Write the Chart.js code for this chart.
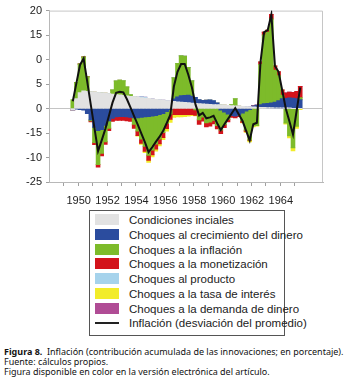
<!DOCTYPE html>
<html>
<head>
<meta charset="utf-8">
<script src="https://cdn.jsdelivr.net/npm/chart.js@4.4.0/dist/chart.umd.min.js"></script>
<style>
  body { margin: 0; background: #fff; width: 351px; height: 388px; position: relative; overflow: hidden; }
  #chart { position: absolute; left: 0; top: 0; }
  .legend { position: absolute; left: 89px; top: 210px; width: 194px; height: 124px; border: 1px solid #555;
            font-family: 'Liberation Sans Narrow', 'Arial Narrow', 'Liberation Sans', sans-serif; font-size: 11.5px; color: #222; }
  .legend .row { position: absolute; left: 0; width: 100%; height: 14px; }
  .legend .sw { position: absolute; left: 5px; top: 1px; width: 24px; height: 11px; }
  .legend .ln { position: absolute; left: 5px; top: 6px; width: 24px; height: 1.5px; background: #222; }
  .legend .lbl { position: absolute; left: 39px; top: 0; line-height: 14px; white-space: nowrap; }
  .caption { position: absolute; left: 4px; top: 347px; font-family: 'Noto Sans', sans-serif; font-size: 9.4px;
             line-height: 10.2px; color: #111; white-space: nowrap; transform-origin: 0 0; }
</style>
</head>
<body>
<canvas id="chart" width="351" height="208"></canvas>
<div class="legend" id="legend"></div>
<div class="caption" id="caption">
  <div id="cap1"><b>Figura 8.</b>&nbsp; Inflación (contribución acumulada de las innovaciones; en porcentaje).</div>
  <div>Fuente: cálculos propios.</div>
  <div>Figura disponible en color en la versión electrónica del artículo.</div>
</div>
<script>
// quarters 1950-I .. 1965-IV
const years = [1950, 1951, 1952, 1953, 1954, 1955, 1956, 1957, 1958, 1959, 1960, 1961, 1962, 1963, 1964, 1965];
const quarterPos = [];
years.forEach((y) => [0.125, 0.375, 0.625, 0.875].forEach((f) => quarterPos.push(y + f)));

const xTickValues = years;
const xTickLabels = ["1950", "", "1952", "", "1954", "", "1956", "", "1958", "", "1960", "", "1962", "", "1964", ""];
const yTickValues = [20, 15, 10, 5, 0, -5, -10, -15];
const yTickLabels = ["20", "15", "0", "5", "0", "-15", "-10", "-25"];

const initialConditions = [
  -0.3, 2.0, 3.2, 3.6, 3.5, 3.4, 3.35, 3.25,
  3.15, 3.1, 3.0, 2.9, 2.8, 2.75, 2.65, 2.55,
  2.45, 2.4, 2.3, 2.2, 2.1, 2.05, 1.95, 1.85,
  1.8, 1.7, 1.6, 1.5, 1.45, 1.35, 1.3, 1.25,
  1.2, 1.1, 1.05, 1.0, 0.95, 0.9, 0.85, 0.8,
  0.75, 0.7, 0.65, 0.6, 0.55, 0.5, 0.45, 0.4,
  0.35, 0.3, 0.3, 0.25, 0.2, 0.2, 0.15, 0.15,
  0.1, 0.1, 0.1, 0.05, 0.05, 0, 0, 0
];
const moneyGrowth = [
  0, -0.1, -0.2, -0.3, -1.0, -2.3, -3.8, -4.5,
  -4.3, -3.4, -2.5, -2.0, -1.7, -1.6, -1.6, -1.7,
  -1.8, -1.9, -1.9, -1.8, -1.7, -1.6, -1.5, -1.4,
  -1.2, -1.0, -0.6, -0.2, 0.5, 1.0, 1.3, 1.4,
  1.5, 1.4, 1.2, 0.8, 0.7, 0.8, 0.9, 0.8,
  0.4, -0.3, -0.7, -1.1, -1.4, -1.5, -1.3, -0.9,
  -0.5, -0.2, 0.2, 0.4, 0.6, 0.8, 0.9, 1.0,
  1.2, 1.5, 1.9, 2.0, 2.1, 2.1, 2.0, 1.8
];
const inflationShocks = [
  1.8, 3.3, 5.9, 6.9, 3.0, -0.2, -3.15, -6.95,
  -4.85, -3.4, -1.5, 0.9, 2.8, 3.05, 3.05, 1.85,
  0.35, -1.3, -2.7, -4.4, -6.0, -7.95, -6.95, -5.85,
  -5.0, -3.9, -2.4, -0.9, 4.35, 6.85, 8.2, 8.05,
  5.7, 3.2, -0.25, -2.3, -1.75, -2.9, -2.75, -2.4,
  -3.45, -4.1, -2.55, -1.1, 0.25, 1.5, -0.05, -1.6,
  -3.95, -6.2, -3.5, -3.45, 8.2, 14.0, 14.55, 17.15,
  6.5, 5.1, 0.7, -2.95, -5.55, -8.0, -3.6, 0.4
];
const monetization = [
  0, 0, 0, 0, 0, -0.2, -0.4, -0.5,
  -0.5, -0.5, -0.5, -0.6, -0.7, -0.8, -0.8, -0.8,
  -0.8, -0.8, -0.9, -0.9, -1.0, -1.0, -1.0, -1.0,
  -1.0, -1.0, -1.1, -1.1, -1.2, -1.2, -1.2, -1.2,
  -1.2, -1.2, -1.1, -0.9, -0.8, -0.8, -0.8, -0.7,
  -0.7, -0.7, -0.6, -0.5, -0.4, -0.4, -0.3, -0.3,
  -0.2, -0.1, 0, 0, 0.5, 0.6, 0.4, 0.9,
  0.9, 0.8, 1.1, 1.1, 1.2, 1.2, 1.5, 2.3
];
const outputShocks = [
  0, 0, 0, 0, 0, 0, 0, 0,
  0, 0, 0, 0, 0, 0, 0, 0,
  0, 0, 0, 0.2, 0.2, 0, 0, 0,
  0, 0, 0, 0, 0, 0, 0, 0,
  0, 0, 0, 0, 0, 0, 0, 0,
  0, 0, 0, 0, 0, 0, 0, 0,
  0, 0, 0, 0, 0, 0, 0, 0,
  0, 0, 0, 0, 0, 0, 0, 0
];
const interestRate = [
  0, 0, 0, 0, 0, 0, 0, 0,
  0, 0, 0, 0, 0, 0, 0, 0,
  0, 0, -0.1, -0.2, -0.3, -0.4, -0.4, -0.4,
  -0.4, -0.4, -0.5, -0.6, -0.6, -0.5, -0.5, -0.4,
  -0.3, -0.2, -0.1, 0, 0, 0, 0, 0,
  0, 0, 0, 0, 0, 0, 0, -0.1,
  -0.2, -0.3, -0.2, -0.1, 0, 0, 0, 0,
  0, 0, 0, -0.2, -0.4, -0.6, -0.4, -0.2
];
const moneyDemand = [
  0, 0, 0, 0, 0, 0, 0, 0,
  0, 0, 0, 0, 0, 0, 0, 0,
  0, 0, 0, 0, 0, 0, 0, 0,
  0, 0, 0, 0, 0, 0, 0, 0,
  0, 0, 0, 0, 0, 0, 0, 0,
  0, 0, 0, 0, 0, 0, 0, 0,
  0, 0, 0, 0, 0, 0, 0, 0,
  0, 0, 0, 0, 0, 0, 0, 0
];
const inflation = [
  1.5, 5.2, 8.9, 10.2, 5.5, 0.7, -4.0, -8.7,
  -6.5, -4.2, -1.5, 1.2, 3.2, 3.4, 3.3, 1.9,
  0.2, -1.6, -3.3, -5.1, -6.9, -8.9, -7.9, -6.8,
  -5.8, -4.6, -3.0, -1.3, 4.5, 7.5, 9.1, 9.1,
  6.9, 4.3, 0.8, -1.4, -0.9, -2.0, -1.8, -1.5,
  -3.0, -4.4, -3.2, -2.1, -1.0, 0.1, -1.2, -2.5,
  -4.5, -6.5, -3.2, -2.9, 9.5, 15.6, 16.0, 19.2,
  8.7, 7.5, 3.8, 0.0, -2.6, -5.3, -0.5, 4.3
];

const series = [
  { label: "Condiciones inciales", data: initialConditions, color: "#e2e2e2" },
  { label: "Choques al crecimiento del dinero", data: moneyGrowth, color: "#2b4c9e" },
  { label: "Choques a la inflación", data: inflationShocks, color: "#7dbb2a" },
  { label: "Choques a la monetización", data: monetization, color: "#d3131b" },
  { label: "Choques al producto", data: outputShocks, color: "#a6d3ec" },
  { label: "Choques a la tasa de interés", data: interestRate, color: "#f2ec2a" },
  { label: "Choques a la demanda de dinero", data: moneyDemand, color: "#b04c95" },
];

const NARROW = "'Liberation Sans Narrow', 'Arial Narrow', 'Liberation Sans', sans-serif";
const pts = (arr) => arr.map((v, i) => ({ x: quarterPos[i], y: v }));

// top and right border of the plot box
const frame = {
  id: "frame",
  beforeDatasetsDraw(chart) {
    const { ctx, chartArea: a } = chart;
    ctx.save();
    ctx.strokeStyle = "#c6c6c6";
    ctx.lineWidth = 1;
    ctx.beginPath();
    ctx.moveTo(a.left, a.top + 0.5);
    ctx.lineTo(a.right - 0.5, a.top + 0.5);
    ctx.lineTo(a.right - 0.5, a.bottom);
    ctx.stroke();
    ctx.restore();
  },
};

const datasets = [
  {
    type: "line",
    label: "Inflación (desviación del promedio)",
    data: pts(inflation),
    borderColor: "#111",
    borderWidth: 2,
    pointRadius: 0,
    tension: 0,
    stack: "line",
    order: 0,
  },
];
series.forEach((s) => {
  datasets.push({
    label: s.label,
    data: pts(s.data),
    backgroundColor: s.color,
    borderWidth: 0,
    inflateAmount: 0.5,
    barPercentage: 1,
    categoryPercentage: 1,
    order: 1,
  });
});

new Chart(document.getElementById("chart").getContext("2d"), {
  type: "bar",
  data: { datasets: datasets },
  options: {
    responsive: false,
    animation: false,
    devicePixelRatio: 1,
    layout: { padding: { top: 8, right: 28, left: 0, bottom: 0 } },
    plugins: { legend: { display: false }, tooltip: { enabled: false } },
    scales: {
      x: {
        type: "linear",
        stacked: true,
        min: 1949.07,
        max: 1966.86,
        afterBuildTicks: (axis) => { axis.ticks = xTickValues.map((v) => ({ value: v })); },
        afterFit: (axis) => { axis.height = 26; },
        grid: { drawOnChartArea: false, tickLength: 4, color: "#a0a0a0" },
        border: { color: "#b8b8b8" },
        ticks: {
          autoSkip: false,
          maxRotation: 0,
          padding: 8,
          labelOffset: 7.7,
          color: "#222",
          font: { family: NARROW, size: 11 },
          callback: (value) => xTickLabels[xTickValues.indexOf(value)],
        },
      },
      y: {
        stacked: true,
        min: -15,
        max: 20,
        afterBuildTicks: (axis) => { axis.ticks = yTickValues.map((v) => ({ value: v })); },
        afterFit: (axis) => { axis.width = 49; },
        grid: {
          color: (c) => (c.tick && c.tick.value === 0 ? "#c4c4c4" : "rgba(0,0,0,0)"),
          tickColor: "#a0a0a0",
          tickLength: 3,
        },
        border: { color: "#b8b8b8" },
        ticks: {
          padding: 4,
          color: "#222",
          font: { family: NARROW, size: 11 },
          callback: (value) => yTickLabels[yTickValues.indexOf(value)],
        },
      },
    },
  },
  plugins: [frame],
});

// legend box
const legend = document.getElementById("legend");
const rows = series.map((s) => ({ label: s.label, color: s.color, line: false }));
rows.push({ label: "Inflación (desviación del promedio)", color: "#222", line: true });
rows.forEach((r, k) => {
  const row = document.createElement("div");
  row.className = "row";
  row.style.top = (2 + k * 14.76).toFixed(2) + "px";
  row.innerHTML = (r.line ? '<div class="ln"></div>' : '<div class="sw" style="background:' + r.color + '"></div>') +
    '<div class="lbl">' + r.label + "</div>";
  legend.appendChild(row);
});

// squeeze the caption to the printed width
const cap = document.getElementById("caption");
const w = document.getElementById("cap1").scrollWidth;
cap.style.transform = "scaleX(" + (339 / w).toFixed(3) + ")";
</script>
</body>
</html>
